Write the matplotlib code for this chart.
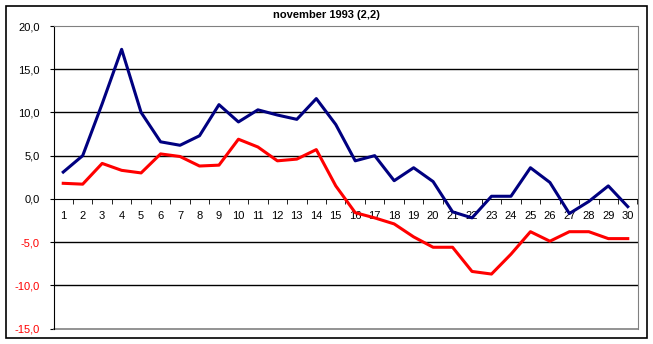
import numpy as np
import matplotlib
matplotlib.use('Agg')
import matplotlib.pyplot as plt
from matplotlib.patches import Rectangle
from matplotlib.ticker import FuncFormatter

plt.rcParams['font.family'] = ['Liberation Sans', 'DejaVu Sans']

# daily values for november 1993
days = list(range(1, 31))
upper = [3.1, 5.0, 11.0, 17.3, 10.0, 6.6, 6.2, 7.3, 10.9, 8.9,
         10.3, 9.7, 9.2, 11.6, 8.6, 4.4, 5.0, 2.1, 3.6, 2.0,
         -1.5, -2.2, 0.3, 0.3, 3.6, 1.9, -1.7, -0.3, 1.5, -0.9]
lower = [1.8, 1.7, 4.1, 3.3, 3.0, 5.2, 4.9, 3.8, 3.9, 6.9,
         6.0, 4.4, 4.6, 5.7, 1.5, -1.6, -2.2, -2.9, -4.4, -5.6,
         -5.6, -8.4, -8.7, -6.4, -3.8, -4.9, -3.8, -3.8, -4.6, -4.6]
y_ticks = [-15, -10, -5, 0, 5, 10, 15, 20]
title = 'november 1993 (2,2)'

fig = plt.figure(figsize=(6.53, 3.44), dpi=100)
ax = fig.add_axes([53.5 / 653, 1 - 328.5 / 344, 584 / 653, 302.5 / 344])

# outer frame of the chart
fig.patches.append(Rectangle((5.5 / 653, 1 - 338 / 344), 641 / 653, 332.5 / 344,
                             transform=fig.transFigure, fill=False,
                             edgecolor='black', linewidth=1.2))

fig.text(326.5 / 653, 1 - 15 / 344, title, ha='center', va='center',
         fontsize=8, fontweight='bold')

for y in y_ticks:
    if -15 < y < 20 and y != 0:
        ax.axhline(y, color='black', linewidth=1.0, zorder=1)

ax.plot(days, upper, color='#000080', linewidth=2.2, zorder=3)
ax.plot(days, lower, color='#ff0000', linewidth=2.2, zorder=3)

ax.set_xlim(0.5, 30.5)
ax.set_ylim(-15, 20)

# category axis crosses at zero
ax.spines['bottom'].set_position(('data', 0))
ax.spines['bottom'].set_color('black')
ax.spines['left'].set_color('black')
ax.spines['top'].set_color('#808080')
ax.spines['right'].set_color('#808080')
ax.axhline(-15, color='#808080', linewidth=1.2, clip_on=False, zorder=2)

ax.set_xticks(days)
ax.set_xticklabels([str(d) for d in days], fontsize=8)
ax.set_xticks(np.arange(0.5, 31, 1), minor=True)
ax.tick_params(axis='x', which='major', length=0, pad=8.5)
ax.tick_params(axis='x', which='minor', direction='out', length=3.5, color='black')

ax.set_yticks(y_ticks)
ax.yaxis.set_major_formatter(FuncFormatter(lambda v, p: f'{v:.1f}'.replace('.', ',')))
ax.tick_params(axis='y', direction='out', length=3, labelsize=8, pad=7)
for lbl, v in zip(ax.get_yticklabels(), y_ticks):
    if v < 0:
        lbl.set_color('#ff0000')

fig.savefig('out.png', dpi=100)
